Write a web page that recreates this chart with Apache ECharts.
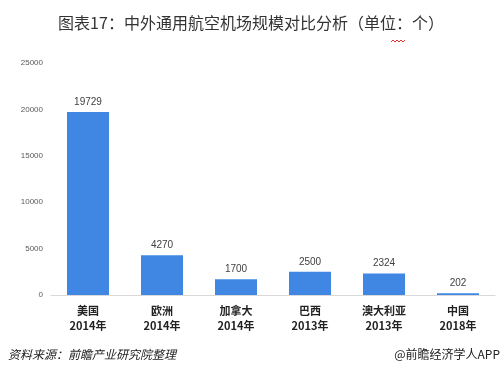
<!DOCTYPE html>
<html><head><meta charset="utf-8">
<script src="https://cdn.jsdelivr.net/npm/echarts@6/dist/echarts.min.js"></script>
<style>html,body{margin:0;padding:0;background:#fff}#c{width:502px;height:375px}</style>
</head><body><div id="c"></div>
<script>
const categories = ['美国\n2014年','欧洲\n2014年','加拿大\n2014年','巴西\n2013年','澳大利亚\n2013年','中国\n2018年'];
const values = [19729, 4270, 1700, 2500, 2324, 202];
const yTicks = [0, 5000, 10000, 15000, 20000, 25000];

const chart = echarts.init(document.getElementById('c'), null, {renderer:'canvas'});
chart.setOption({
  animation:false,
  backgroundColor:'#fff',
  title:{
    text:'图表17：中外通用航空机场规模对比分析（单位：个）',
    left:'center', top:10,
    textStyle:{fontSize:16, fontWeight:'normal', color:'#333', fontFamily:'Noto Sans CJK SC'}
  },
  grid:{left:51, right:7, top:63, bottom:80},
  xAxis:{
    type:'category', data:categories,
    axisLine:{lineStyle:{color:'#d9d9d9'}},
    axisTick:{show:false},
    axisLabel:{color:'#222', fontSize:11, fontWeight:'bold', lineHeight:15, margin:8, fontFamily:'Noto Sans CJK SC'}
  },
  yAxis:{
    type:'value', min:yTicks[0], max:yTicks[yTicks.length-1], interval:5000,
    splitLine:{show:false},
    axisLine:{show:false}, axisTick:{show:false},
    axisLabel:{color:'#595959', fontSize:8, margin:8, formatter:(v)=>String(v)}
  },
  series:[{
    type:'bar', data:values, barWidth:42,
    itemStyle:{color:'#3f87e3'},
    label:{show:true, position:'top', color:'#404040', fontSize:10, distance:5}
  }],
  graphic:[
    {type:'text', left:8, top:348, style:{text:'资料来源：前瞻产业研究院整理', fill:'#222', font:'italic 12px "Noto Sans CJK SC"'}},
    {type:'text', right:2, top:348, style:{text:'@前瞻经济学人APP', fill:'#222', font:'12px "Noto Sans CJK SC"'}},
    {type:'polyline', shape:{points:[[391,42],[393,40],[395,42],[397,40],[399,42],[401,40],[403,42],[405,40]]}, style:{stroke:'#e03030', lineWidth:1, fill:null}}
  ]
});
</script></body></html>
